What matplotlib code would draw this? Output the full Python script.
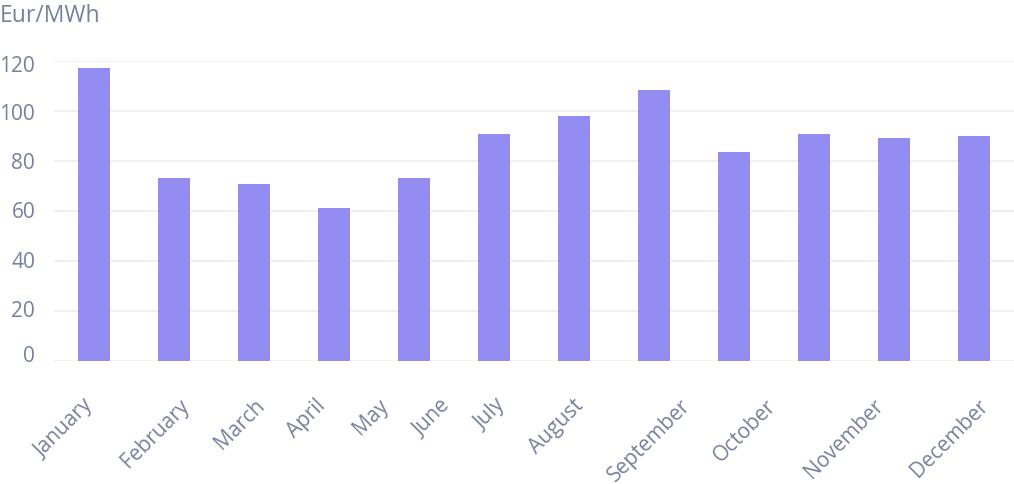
import matplotlib.pyplot as plt
import numpy as np

plt.rcParams["font.family"] = ["Open Sans", "DejaVu Sans"]

months = [
    "January", "February", "March", "April", "May", "June",
    "July", "August", "September", "October", "November", "December",
]
prices = [117.2, 73.2, 70.8, 61.2, 73.2, 90.8, 98.0, 108.4, 83.6, 90.8, 89.2, 90.0]
# the source chart draws its labels slightly off the ticks; keep that look
label_pos = [-0.05, 1.15, 2.1, 2.86, 3.64, 4.41, 5.1, 6.08, 7.42, 8.49, 9.83, 11.14]
y_ticks = [0, 20, 40, 60, 80, 100, 120]
y_label_pos = [2.6, 20.8, 40.4, 60.4, 80.0, 99.8, 118.6]

TEXT = "#76819c"
BAR = "#938df2"
GRID = "#ececf3"

fig = plt.figure(figsize=(10.14, 4.84), dpi=100)
ax = fig.add_axes([54 / 1014, 123 / 484, 960 / 1014, 300 / 484])

x = np.arange(len(months))
ax.bar(x, prices, width=0.4, color=BAR, zorder=3)

ax.set_xlim(-0.5, len(months) - 0.5)
ax.set_ylim(0, 120)
for v in y_ticks:
    ax.axhline(v, color=GRID, linewidth=1.2, zorder=0)

ax.set_yticks(y_label_pos)
ax.set_yticklabels([str(v) for v in y_ticks], va="center_baseline")

ax.set_xticks(label_pos)
ax.set_xticklabels(months, rotation=45, ha="right", va="center",
                   rotation_mode="anchor")

for s in ax.spines.values():
    s.set_visible(False)
ax.tick_params(axis="both", length=0, colors=TEXT, labelsize=15)
ax.tick_params(axis="x", pad=30)
ax.tick_params(axis="y", pad=13.5)

fig.text(0.0, 1 - 16 / 484, "Eur/MWh", color=TEXT, fontsize=16.5,
         ha="left", va="center")

fig.savefig("out.png", dpi=100)
